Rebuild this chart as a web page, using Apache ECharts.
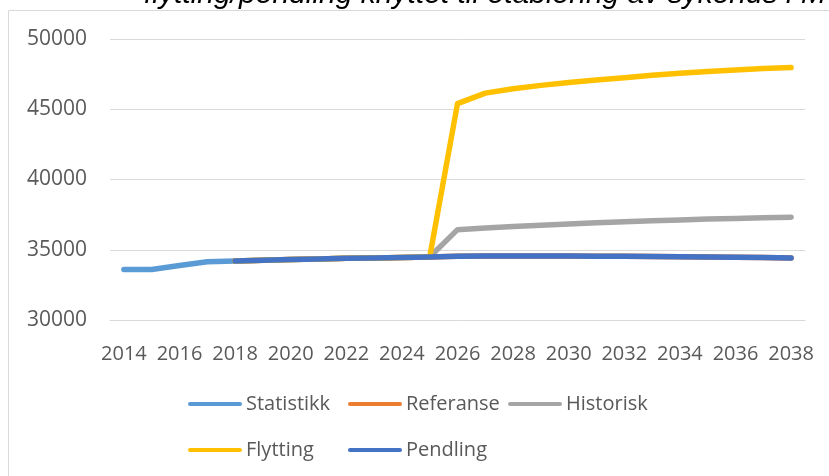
<!DOCTYPE html>
<html>
<head>
<meta charset="utf-8">
<script src="https://cdn.jsdelivr.net/npm/echarts@6/dist/echarts.min.js"></script>
<style>
html,body{margin:0;padding:0;background:#fff;}
#c{width:829px;height:476px;}
</style>
</head>
<body>
<div id="c"></div>
<script>
const years = ['2014','2015','2016','2017','2018','2019','2020','2021','2022','2023','2024','2025','2026','2027','2028','2029','2030','2031','2032','2033','2034','2035','2036','2037','2038'];
const yTicks = [30000, 35000, 40000, 45000, 50000];
const statistikk = [33600, 33600, 33880, 34150, 34200, null, null, null, null, null, null, null, null, null, null, null, null, null, null, null, null, null, null, null, null];
const referanse = [null, null, null, null, 34200, 34250, 34300, 34350, 34390, 34420, 34450, 34480, 34540, 34550, 34560, 34560, 34550, 34540, 34530, 34520, 34500, 34480, 34460, 34440, 34410];
const historisk = [null, null, null, null, 34200, 34250, 34300, 34350, 34390, 34420, 34450, 34480, 36430, 36550, 36650, 36750, 36840, 36920, 36990, 37060, 37120, 37180, 37230, 37280, 37320];
const flytting = [null, null, null, null, 34200, 34250, 34300, 34350, 34390, 34420, 34450, 34480, 45400, 46150, 46460, 46700, 46900, 47080, 47250, 47420, 47560, 47690, 47800, 47900, 47970];
const pendling = [null, null, null, null, 34200, 34250, 34300, 34350, 34390, 34420, 34450, 34480, 34540, 34550, 34560, 34560, 34550, 34540, 34530, 34520, 34500, 34480, 34460, 34440, 34410];
const seriesNames = ['Statistikk', 'Referanse', 'Historisk', 'Flytting', 'Pendling'];
const seriesColors = ['#5B9BD5', '#ED7D31', '#A5A5A5', '#FFC000', '#4472C4'];
const seriesData = [statistikk, referanse, historisk, flytting, pendling];
const titleText = 'flytting/pendling knyttet til etablering av sykehus i M';

const font = '"Open Sans", sans-serif';
const legendPos = [[188, 394], [348, 394], [508, 394], [188, 440], [348, 440]];
const iconPath = 'path://M2,0 L52,0 A2,2 0 0 1 52,4 L2,4 A2,2 0 0 1 2,0 Z';

const chart = echarts.init(document.getElementById('c'), null, {renderer: 'canvas'});
chart.setOption({
  backgroundColor: '#fff',
  animation: false,
  graphic: [
    {type: 'line', shape: {x1: 8.5, y1: 10.5, x2: 829, y2: 10.5}, style: {stroke: '#D9D9D9', lineWidth: 1}, silent: true},
    {type: 'line', shape: {x1: 8.5, y1: 10.5, x2: 8.5, y2: 476}, style: {stroke: '#D9D9D9', lineWidth: 1}, silent: true},
    {type: 'text', left: 144, top: -20, z: 10, style: {text: titleText, font: 'italic 30px "Liberation Sans", Arial, sans-serif', fill: '#000'}, silent: true}
  ],
  grid: {left: 110, right: 24, top: 39, bottom: 156},
  legend: seriesNames.map((n, i) => ({
    data: [n],
    left: legendPos[i][0],
    top: legendPos[i][1],
    padding: 0,
    itemWidth: 54,
    itemHeight: 5,
    itemGap: 0,
    icon: iconPath,
    textStyle: {fontFamily: font, fontSize: 20, color: '#595959', padding: [0, 0, 0, -1]},
    selectedMode: false
  })),
  xAxis: {
    type: 'category',
    data: years,
    boundaryGap: true,
    axisLine: {show: true, lineStyle: {color: '#D9D9D9', width: 1}},
    axisTick: {show: false},
    axisLabel: {interval: 1, fontFamily: font, fontSize: 20, color: '#595959', margin: 24}
  },
  yAxis: {
    type: 'value',
    min: yTicks[0],
    max: yTicks[yTicks.length - 1],
    interval: 5000,
    axisLine: {show: false},
    axisTick: {show: false},
    splitLine: {lineStyle: {color: '#D9D9D9', width: 1}},
    axisLabel: {fontFamily: font, fontSize: 21, color: '#595959', margin: 23, formatter: v => String(v)}
  },
  series: seriesNames.map((n, i) => ({
    name: n,
    type: 'line',
    data: seriesData[i],
    color: seriesColors[i],
    showSymbol: false,
    symbol: 'none',
    connectNulls: false,
    lineStyle: {width: 5.5, color: seriesColors[i], cap: 'round', join: 'round'},
    z: 2 + i
  }))
});
</script>
</body>
</html>
